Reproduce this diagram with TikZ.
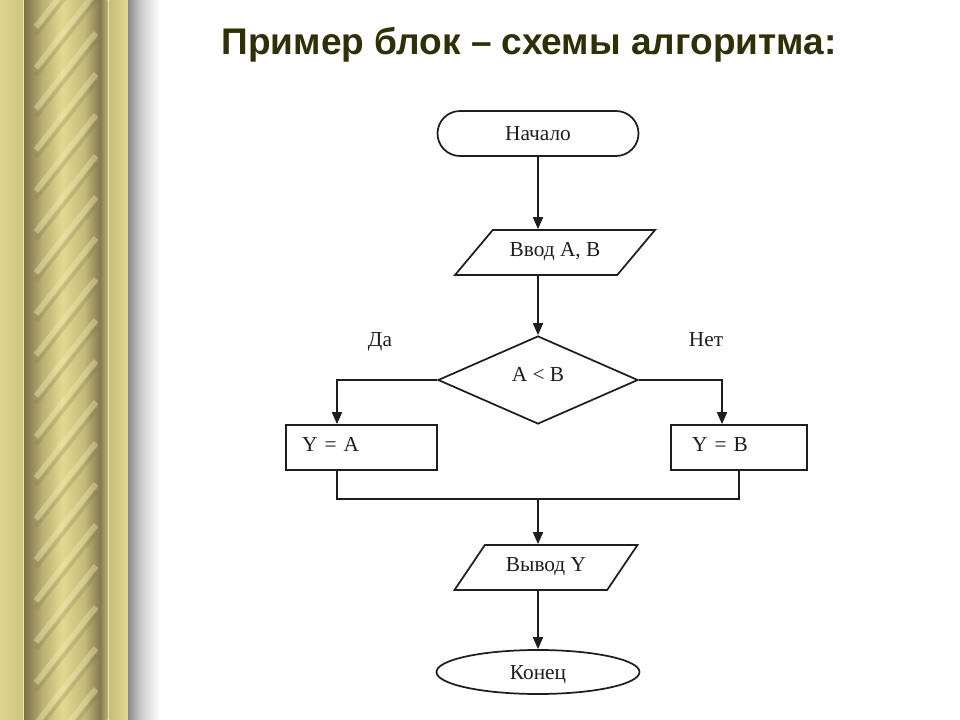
\documentclass[tikz,border=0pt]{standalone}
\usepackage{fontspec}
\setmainfont{Liberation Serif}
\newfontfamily\titlefont{Liberation Sans}
\usepackage{xcolor}
\usepackage{tikz}
\usetikzlibrary{arrows.meta,shapes.geometric,shapes.misc}

\definecolor{titlecol}{HTML}{2F2F08}
\definecolor{linecol}{HTML}{1E1E1E}
\definecolor{goldA}{HTML}{E0D48E}
\definecolor{goldB}{HTML}{D0C380}
\definecolor{goldhi}{HTML}{F0E7A8}
\definecolor{ropedark}{HTML}{7A6F47}
\definecolor{ropemid}{HTML}{BBAF74}
\definecolor{ropelight}{HTML}{E4D890}
\definecolor{ropemidB}{HTML}{C6BA7A}
\definecolor{ropedarkB}{HTML}{857A50}
\definecolor{ropehi}{HTML}{F3EAB0}
\definecolor{ropeshade}{HTML}{7E7449}
\definecolor{bandA}{HTML}{C8BC79}
\definecolor{bandB}{HTML}{E3D790}
\definecolor{shadowA}{HTML}{8A8A8A}
\definecolor{shadowB}{HTML}{C9C9C9}

\begin{document}
\begin{tikzpicture}[
  x=0.75pt, y=-0.75pt,
  every node/.style={font=\fontsize{16}{19}\selectfont, text=linecol},
  startstop/.style={draw=linecol, line width=1.3pt, rounded rectangle, minimum width=150.75pt, minimum height=33.75pt, inner sep=0pt, text height=11pt, text depth=0.5pt},
  endbox/.style={draw=linecol, line width=1.3pt, ellipse, minimum width=152.25pt, minimum height=33pt, inner sep=0pt, text height=11pt, text depth=0.5pt},
  iobox/.style={draw=linecol, line width=1.3pt, trapezium, trapezium stretches body, inner xsep=0pt, inner ysep=8.925pt, text height=11pt, text depth=4.9pt},
  procbox/.style={draw=linecol, line width=1.3pt, rectangle, minimum height=33.75pt, inner ysep=0pt, align=left, text height=11pt, text depth=4.9pt},
  check/.style={draw=linecol, line width=1.3pt, diamond, minimum width=150pt, minimum height=66pt, inner sep=0pt, text height=11pt, text depth=9.4pt},
  answer/.style={anchor=base},
  edge/.style={-{Triangle[length=9pt, width=7.5pt]}, line width=1.3pt, draw=linecol},
  link/.style={line width=1.3pt, draw=linecol}
]
\useasboundingbox (0,0) rectangle (960,720);
\fill[white] (0,0) rectangle (960,720);

\shade[left color=goldA, right color=goldB] (0,0) rectangle (23,720);
\fill[goldhi] (22.5,0) rectangle (24,720);
\shade[left color=ropedark, right color=ropemid] (24,0) rectangle (42,720);
\shade[left color=ropemid, right color=ropelight] (42,0) rectangle (62,720);
\shade[left color=ropelight, right color=ropemidB] (62,0) rectangle (84,720);
\shade[left color=ropemidB, right color=ropedarkB] (84,0) rectangle (100,720);
\shade[left color=ropedarkB, right color=ropemid] (100,0) rectangle (107.5,720);
\begin{scope}
  \clip (34,0) rectangle (98,720);
  \foreach \y in {-60,-19,...,780} {
    \draw[ropeshade, line width=3.5, opacity=0.25] (36,\y+53) -- (96,\y-23);
    \draw[ropehi, line width=4.5, opacity=0.4] (36,\y+46) -- (96,\y-30);
  }
\end{scope}
\fill[goldhi] (107.5,0) rectangle (109,720);
\shade[left color=bandA, right color=bandB] (109,0) rectangle (128,720);
\shade[left color=shadowA, right color=shadowB] (128,0) rectangle (140,720);
\shade[left color=shadowB, right color=white] (140,0) rectangle (160,720);

\node[font=\titlefont\bfseries\fontsize{27.8}{32}\selectfont, text=titlecol, anchor=base] (title) at (529,55) {Пример блок – схемы алгоритма:};

\node[startstop] (start) at (538,133.5) {Начало};
\node[iobox, trapezium left angle=50, trapezium right angle=130, minimum width=150pt] (input) at (555,252.5) {Ввод A, B};
\node[check] (decision) at (538,380) {A < B};
\node[procbox, inner xsep=12pt, text width=89.25pt] (boxA) at (361.5,447.5) {Y = A};
\node[procbox, inner xsep=15.75pt, text width=70.5pt] (boxB) at (739,447.5) {Y = B};
\node[iobox, trapezium left angle=56, trapezium right angle=124, minimum width=137.25pt] (output) at (546,567.5) {Вывод Y};
\node[endbox] (stop) at (538,672) {Конец};
\node[answer] (yes) at (380,346) {Да};
\node[answer] (no) at (706,346) {Нет};

\coordinate (mergeL) at (337,499);
\coordinate (merge) at (538,499);
\coordinate (inB) at (722,499);

\draw[edge] (start) -- (start |- input.north);
\draw[edge] (decision.north |- input.south) -- (decision);
\draw[edge] (decision.west) -| (mergeL |- boxA.north);
\draw[edge] (decision.east) -| (inB |- boxB.north);
\draw[link] (mergeL |- boxA.south) -- (mergeL) -- (boxB.south |- mergeL) -- (boxB.south);
\draw[edge] (merge) -- (merge |- output.north);
\draw[edge] (stop.north |- output.south) -- (stop);
\end{tikzpicture}
\end{document}
